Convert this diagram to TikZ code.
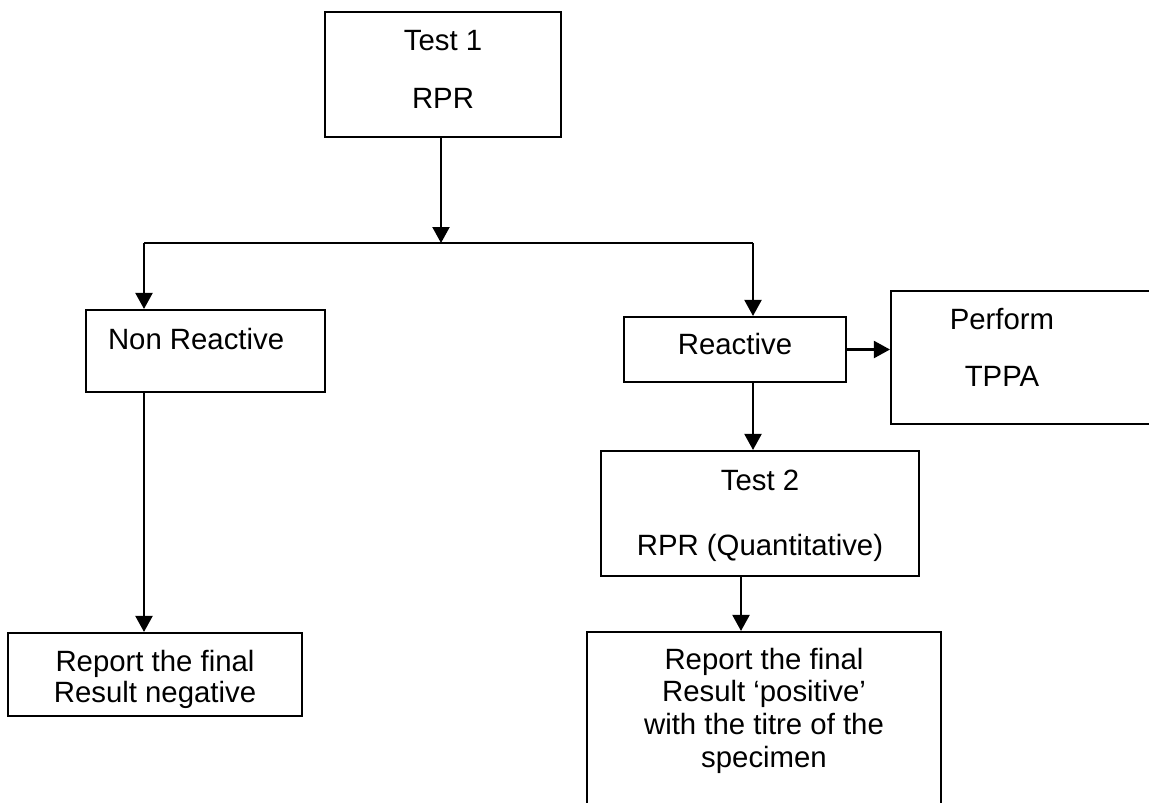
\documentclass[tikz,border=0pt]{standalone}
\usepackage{fontspec}
\setmainfont{Liberation Sans}
\usetikzlibrary{arrows.meta, calc}

\begin{document}
\begin{tikzpicture}[
        x=0.02cm, y=-0.02cm,
        line width=1.2pt,
        font=\fontsize{16.7}{20}\selectfont,
        box/.style={draw, inner sep=0pt},
        txt/.style={anchor=base, inner sep=0pt},
        arr/.style={-{Triangle[width=0.34cm, length=0.32cm]}},
    ]

    \def\pxu{0.02cm}

    \useasboundingbox (0,0) rectangle (1149,802);
    \clip (0,0) rectangle (1149,802);

    % boxes
    \node[box, minimum width=236*\pxu, minimum height=125*\pxu] (test1) at (443,74.5) {};
    \node[box, minimum width=239*\pxu, minimum height=82*\pxu] (nonreact) at (205.5,351) {};
    \node[box, minimum width=222*\pxu, minimum height=65*\pxu] (react) at (735,349.5) {};
    \node[box, minimum width=262*\pxu, minimum height=133*\pxu] (tppa) at (1022,357.5) {};
    \node[box, minimum width=318*\pxu, minimum height=125*\pxu] (test2) at (760,513.5) {};
    \node[box, minimum width=294*\pxu, minimum height=83*\pxu] (repneg) at (155,674.5) {};
    \node[box, minimum width=354*\pxu, minimum height=198*\pxu] (reppos) at (764,731) {};

    % texts
    \node[txt] (t1a) at (443,50) {Test 1};
    \node[txt] (t1b) at (443,108) {RPR};
    \node[txt, anchor=base west] (nra) at (107,349) {Non Reactive};
    \node[txt] (ra) at (735,354) {Reactive};
    \node[txt] (pa) at (1002,329) {Perform};
    \node[txt] (pb) at (1002,386) {TPPA};
    \node[txt] (t2a) at (760,490) {Test 2};
    \node[txt] (t2b) at (760,555) {RPR (Quantitative)};
    \node[txt] (rna) at (155,671) {Report the final};
    \node[txt] (rnb) at (155,702) {Result negative};
    \node[txt] (rpa) at (764,669) {Report the final};
    \node[txt] (rpb) at (764,701) {Result ‘positive’};
    \node[txt] (rpc) at (764,734) {with the titre of the};
    \node[txt] (rpd) at (764,767) {specimen};

    % connectors
    \coordinate (bus) at (441,243);
    \coordinate (busL) at (144,243);
    \coordinate (busR) at (753,243);

    \draw[arr] (test1.south -| bus) -- (bus);
    \draw (busL) -- (busR);
    \draw[arr] (busL) -- (busL |- nonreact.north);
    \draw[arr] (busR) -- (busR |- react.north);
    \draw[arr] (nonreact.south -| busL) -- (busL |- repneg.north);
    \draw[arr] (react.south -| busR) -- (busR |- test2.north);
    \draw[arr] (react.east) -- (tppa.west |- react.east);
    \draw[arr] ([xshift=-19*\pxu]test2.south) -- ([xshift=-19*\pxu]test2.south |- reppos.north);

\end{tikzpicture}
\end{document}
